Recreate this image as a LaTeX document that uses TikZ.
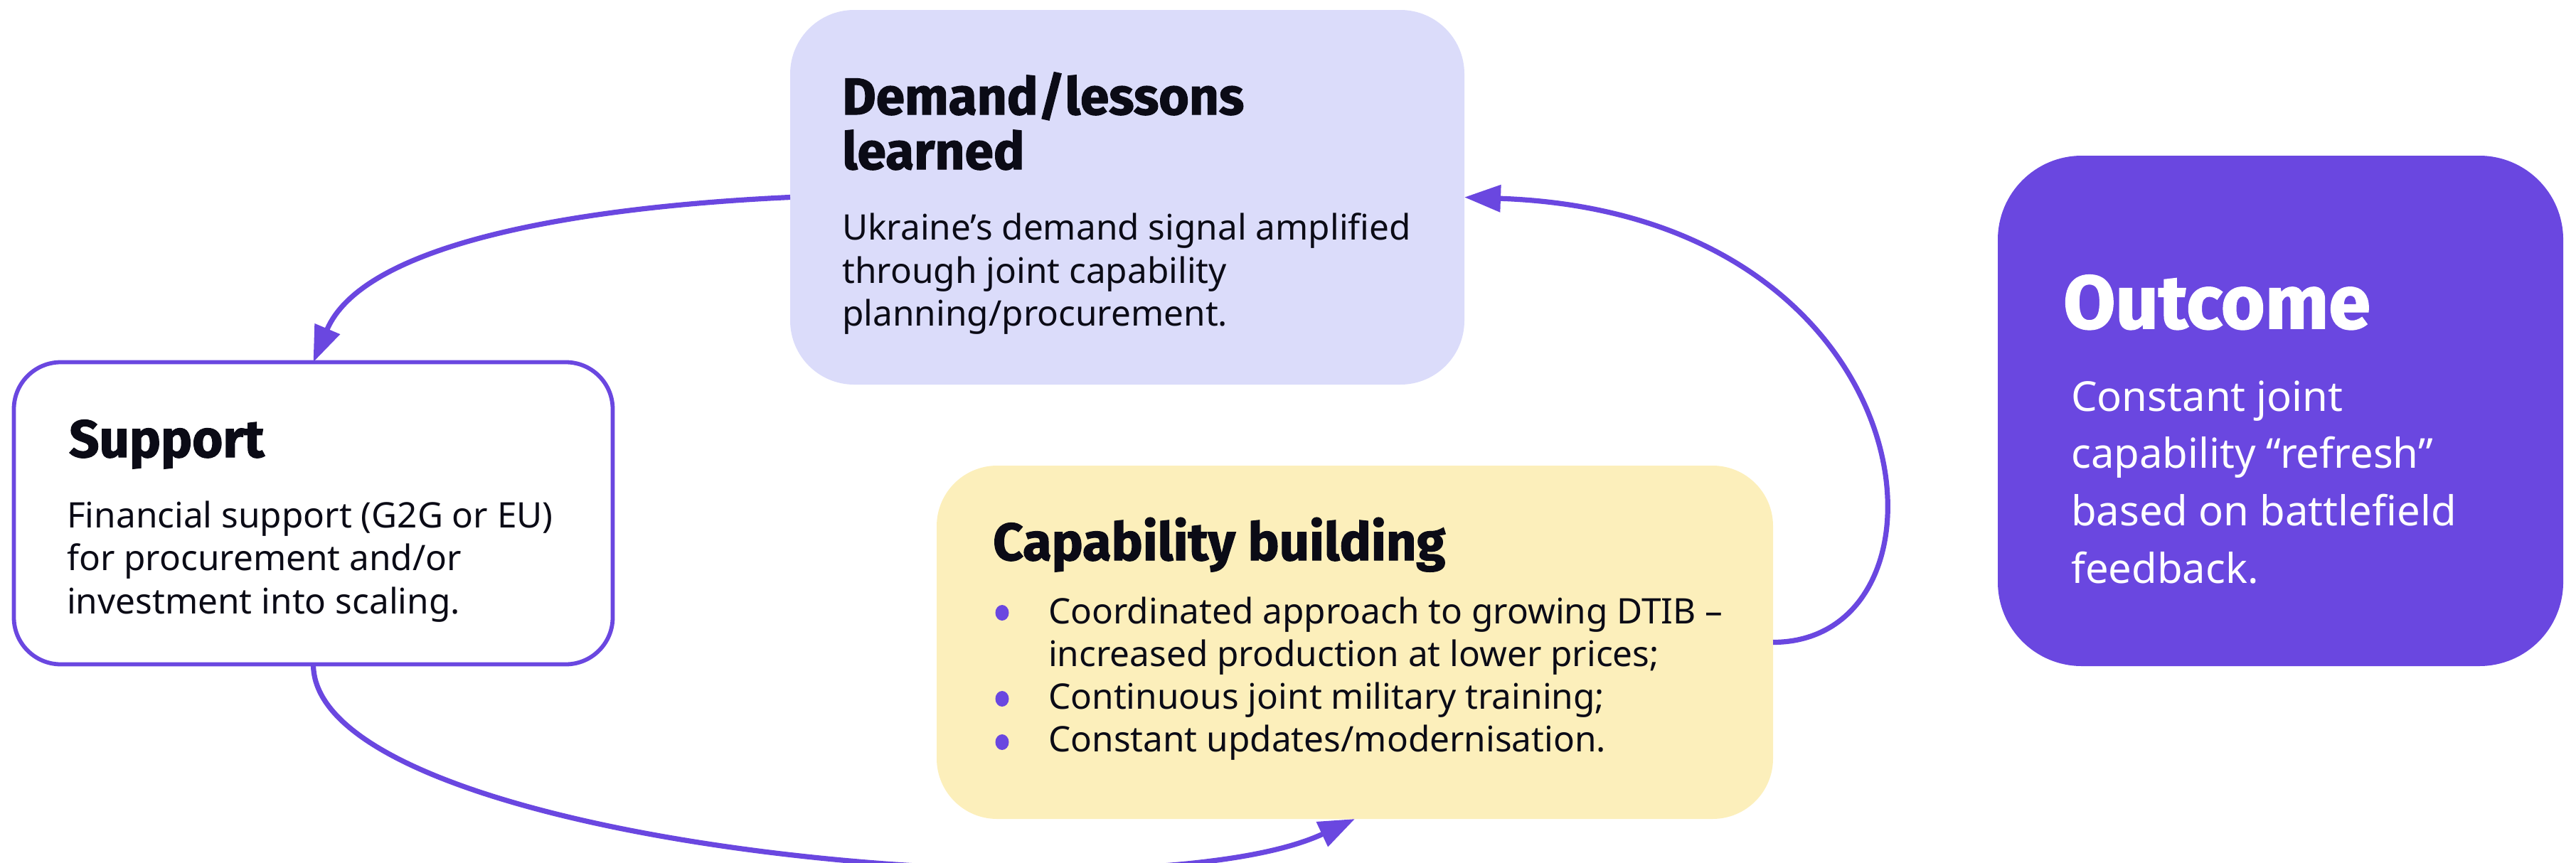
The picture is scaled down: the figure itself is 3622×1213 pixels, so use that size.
\documentclass[tikz,border=0pt]{standalone}
\usepackage{fontspec}
\setmainfont{Noto Sans}
\newfontfamily\titlefont{Fira Sans}[BoldFeatures={FakeBold=1.6}]
\usetikzlibrary{arrows.meta}
\definecolor{pur}{HTML}{6A47E0}
\definecolor{lav}{HTML}{DBDCFA}
\definecolor{yel}{HTML}{FCEFBB}
\definecolor{ink}{HTML}{0B0B16}
\begin{document}
\begin{tikzpicture}[x=1pt,y=-1pt,
  boxbase/.style={rectangle, inner sep=0pt, outer sep=0pt},
  titletext/.style={anchor=base west, inner sep=0pt, text=ink},
  bodytext/.style={anchor=base west, inner sep=0pt, text=ink},
  bulletdot/.style={fill=pur},
  arr/.style={draw=pur, line width=7.2pt, -{Triangle[length=51pt,width=37pt]}}]
\path[use as bounding box] (0,0) rectangle (3622,1213);

% boxes
\node[boxbase, fill=lav, rounded corners=90pt, minimum width=948pt, minimum height=527pt] (demand) at (1585,277.5) {};
\node[boxbase, fill=white, draw=pur, line width=5.8pt, rounded corners=66pt, minimum width=842pt, minimum height=425pt] (support) at (440.5,722) {};
\node[boxbase, fill=yel, rounded corners=85pt, minimum width=1176pt, minimum height=497pt] (capability) at (1905,903.5) {};
\node[boxbase, fill=pur, rounded corners=118pt, minimum width=795pt, minimum height=718pt] (outcome) at (3206.5,578) {};

% texts
\node[titletext] (demandtitle) at (1184,161) {\parbox[t]{900pt}{\raggedright\titlefont\bfseries\fontsize{73}{77}\selectfont Demand/lessons\\learned}};
\node[bodytext] (demandbody) at (1184,337.5) {\parbox[t]{900pt}{\raggedright\fontsize{49.5}{60.5}\selectfont Ukraine’s demand signal amplified\\through joint capability\\planning/procurement.}};

\node[titletext] (supporttitle) at (97,643) {\titlefont\bfseries\fontsize{74}{80}\selectfont Support};
\node[bodytext] (supportbody) at (94,742) {\parbox[t]{800pt}{\raggedright\fontsize{49.5}{60.5}\selectfont Financial support (G2G or EU)\\for procurement and/or\\investment into scaling.}};

\node[titletext] (captitle) at (1396,788) {\titlefont\bfseries\fontsize{74}{80}\selectfont Capability building};
\node[bodytext] (capbody) at (1474,877) {\parbox[t]{1100pt}{\raggedright\fontsize{49.5}{60.3}\selectfont
Coordinated approach to growing DTIB –\\
increased production at lower prices;\\
Continuous joint military training;\\
Constant updates/modernisation.}};
\fill[bulletdot] (1409,862) ellipse[x radius=9.5pt, y radius=11pt];
\fill[bulletdot] (1409,983) ellipse[x radius=9.5pt, y radius=11pt];
\fill[bulletdot] (1409,1044) ellipse[x radius=9.5pt, y radius=11pt];

\node[titletext, text=white] (outtitle) at (2901,462) {\titlefont\bfseries\fontsize{106}{110}\selectfont Outcome};
\node[bodytext, text=white] (outbody) at (2912,578) {\parbox[t]{700pt}{\raggedright\fontsize{58}{80.7}\selectfont Constant joint\\capability “refresh”\\based on battlefield\\feedback.}};

% connectors
\draw[arr] (demand.west) .. controls (800,292) and (510,345) .. (support.north);
\draw[arr] (support.south) .. controls (441,1190) and (1600,1295) .. (capability.south);
\draw[arr] (capability.east) .. controls (2770,903) and (2720,300) .. (demand.east);
\end{tikzpicture}
\end{document}
